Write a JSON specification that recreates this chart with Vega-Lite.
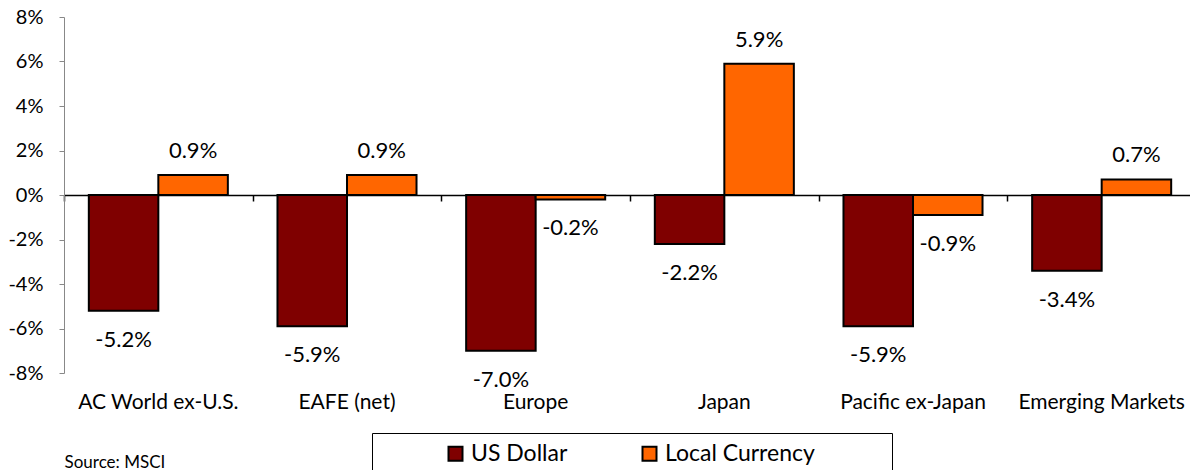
{
  "$schema": "https://vega.github.io/schema/vega-lite/v6.json",
  "width": 1126,
  "height": 356,
  "autosize": {"type": "none"},
  "padding": {"left": 64, "top": 17, "right": 0, "bottom": 97},
  "config": {
    "locale": {"number": {"decimal": ".", "thousands": ",", "grouping": [3], "currency": ["$", ""], "minus": "-"}},
    "font": "Lato",
    "view": {"stroke": null}
  },
  "data": {
    "values": [
      {"region": "AC World ex-U.S.", "currency": "US Dollar", "value": -0.052},
      {"region": "AC World ex-U.S.", "currency": "Local Currency", "value": 0.009},
      {"region": "EAFE (net)", "currency": "US Dollar", "value": -0.059},
      {"region": "EAFE (net)", "currency": "Local Currency", "value": 0.009},
      {"region": "Europe", "currency": "US Dollar", "value": -0.070},
      {"region": "Europe", "currency": "Local Currency", "value": -0.002},
      {"region": "Japan", "currency": "US Dollar", "value": -0.022},
      {"region": "Japan", "currency": "Local Currency", "value": 0.059},
      {"region": "Pacific ex-Japan", "currency": "US Dollar", "value": -0.059},
      {"region": "Pacific ex-Japan", "currency": "Local Currency", "value": -0.009},
      {"region": "Emerging Markets", "currency": "US Dollar", "value": -0.034},
      {"region": "Emerging Markets", "currency": "Local Currency", "value": 0.007}
    ]
  },
  "encoding": {
    "xOffset": {"field": "currency", "type": "nominal", "sort": ["US Dollar", "Local Currency"], "scale": {"paddingInner": 0, "paddingOuter": 0.357}},
    "y": {
      "field": "value", "type": "quantitative",
      "scale": {"domain": [-0.08, 0.08], "nice": false},
      "axis": {
        "values": [-0.08, -0.06, -0.04, -0.02, 0, 0.02, 0.04, 0.06, 0.08],
        "format": ".0%", "title": null, "grid": false,
        "domainColor": "#888888", "tickColor": "#888888", "tickSize": 5,
        "labelPadding": 16, "labelFontSize": 20, "labelColor": "black"
      }
    }
  },
  "layer": [
    {
      "mark": {"type": "bar", "stroke": "black", "strokeWidth": 2},
      "encoding": {
        "x": {
          "field": "region", "type": "nominal", "sort": null,
          "scale": {"range": [0, 1132], "paddingInner": 0, "paddingOuter": 0},
          "axis": {
            "orient": "bottom", "offset": -178, "labels": false, "title": null,
            "domainColor": "black", "domainWidth": 1.5,
            "tickColor": "black", "tickSize": 6, "tickWidth": 1.5, "tickBand": "extent"
          }
        },
        "color": {
          "field": "currency", "type": "nominal",
          "scale": {"domain": ["US Dollar", "Local Currency"], "range": ["#7F0000", "#FF6600"]},
          "legend": {
            "orient": "none", "legendX": 308, "legendY": 416, "direction": "horizontal",
            "title": " ", "titleOrient": "left", "titleFontSize": 2, "titlePadding": 63,
            "strokeColor": "black", "fillColor": "white", "padding": 9,
            "symbolType": "square", "symbolSize": 196, "symbolStrokeColor": "black", "symbolStrokeWidth": 2, "symbolOpacity": 1,
            "labelFontSize": 23, "labelColor": "black", "labelOffset": 4, "columnPadding": 70, "labelLimit": 500,
            "labelExpr": "datum.label == 'Local Currency' ? datum.label + '\u2800\u2800\u2800\u2800' : datum.label"
          }
        }
      }
    },
    {
      "transform": [{"filter": "datum.value >= 0"}],
      "mark": {"type": "text", "dy": -24, "fontSize": 22, "color": "black", "baseline": "middle"},
      "encoding": {
        "x": {
          "field": "region", "type": "nominal", "sort": null,
          "axis": {
            "orient": "bottom", "domain": false, "ticks": false, "tickSize": 0,
            "labelPadding": 18, "labelFontSize": 21, "labelColor": "black", "labelLimit": 300, "labelAngle": 0,
            "title": "Source: MSCI", "titleAnchor": "start", "titleAlign": "left",
            "titleFontSize": 17, "titleFontWeight": "normal", "titleColor": "black", "titlePadding": 42
          }
        },
        "text": {"field": "value", "type": "quantitative", "format": ".1%"}
      }
    },
    {
      "transform": [{"filter": "datum.value < 0"}],
      "mark": {"type": "text", "dy": 29, "fontSize": 22, "color": "black", "baseline": "middle"},
      "encoding": {
        "x": {"field": "region", "type": "nominal", "sort": null, "axis": null},
        "text": {"field": "value", "type": "quantitative", "format": ".1%"}
      }
    }
  ],
  "resolve": {"axis": {"x": "independent"}}
}
